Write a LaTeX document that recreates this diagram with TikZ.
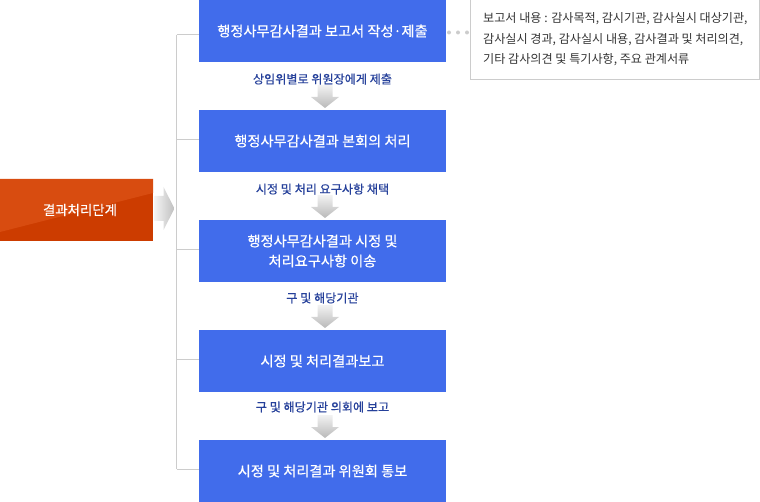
\documentclass[tikz,border=0pt]{standalone}
\usepackage{fontspec}
\setmainfont{Noto Sans CJK KR}
\newfontfamily\medfont{Noto Sans CJK KR}[FakeBold=0.6]
\usetikzlibrary{positioning}
\definecolor{boxblue}{HTML}{416CEB}
\definecolor{orangeA}{HTML}{CC3C00}
\definecolor{orangeB}{HTML}{D84C10}
\definecolor{labblue}{HTML}{25409A}
\definecolor{linegray}{HTML}{CCCCCC}
\definecolor{notetext}{HTML}{333333}
\begin{document}
\begin{tikzpicture}[x=1pt,y=-1pt,
  stepbox/.style={fill=boxblue,text=white,minimum width=247pt,minimum height=62pt,inner sep=0pt,align=center,font=\medfont\fontsize{14.2}{20}\selectfont},
  steplabel/.style={text=labblue,font=\medfont\fontsize{12.1}{14}\selectfont,inner sep=0pt},
  conn/.style={draw=linegray,line width=1pt},
  downarrow/.style={top color=gray!10,bottom color=gray!55,draw=none},
]
\useasboundingbox (0,0) rectangle (760,502);
% left structure line
\coordinate (t1) at (176.5,35);
\coordinate (t2) at (176.5,140);
\coordinate (t3) at (176.5,250);
\coordinate (t4) at (176.5,360);
\coordinate (t5) at (176.5,469);
\draw[conn] (t1) -- (t5);
\draw[conn] (t1) -- (199,35);
\draw[conn] (t2) -- (199,140);
\draw[conn] (t3) -- (199,250);
\draw[conn] (t4) -- (199,360);
\draw[conn] (t5) -- (199,469);
% blue boxes
\node[stepbox] (b1) at (322.5,31) {행정사무감사결과 보고서 작성·제출};
\node[stepbox] (b2) at (322.5,141) {행정사무감사결과 본회의 처리};
\node[stepbox] (b3) at (322.5,251) {행정사무감사결과 시정 및\\처리요구사항 이송};
\node[stepbox] (b4) at (322.5,361) {시정 및 처리결과보고};
\node[stepbox] (b5) at (322.5,471) {시정 및 처리결과 위원회 통보};
% labels
\node[steplabel] (l1) at (322.5,79) {상임위별로 위원장에게 제출};
\node[steplabel] (l2) at (322.5,189) {시정 및 처리 요구사항 채택};
\node[steplabel] (l3) at (322.5,298) {구 및 해당기관};
\node[steplabel] (l4) at (322.5,407) {구 및 해당기관 의회에 보고};
% down arrows
\foreach \y/\n in {85/1,195/2,305/3,415/4}{
  \shade[downarrow] (317.5,\y) -- (332.5,\y) -- (332.5,\y+12) -- (339,\y+12) -- (325,\y+23) -- (311,\y+12) -- (317.5,\y+12) -- cycle;
}
% orange box
\fill[orangeA] (0,179) rectangle (153,241);
\fill[orangeB] (0,179) -- (153,179) -- (153,193) -- (0,232) -- cycle;
\node[text=white,font=\medfont\fontsize{13.4}{15}\selectfont,inner sep=0pt] (res) at (80,210) {결과처리단계};
% right arrow
\shade[left color=gray!8,right color=gray!50,draw=none] (154,196) -- (163.5,196) -- (163.5,187) -- (174.5,208.5) -- (163.5,230) -- (163.5,221) -- (154,221) -- cycle;
% dots
\foreach \x in {449,458,467}{\fill[linegray] (\x,32.5) circle (2pt);}
% note box
\node[draw=linegray,line width=1pt,minimum width=289pt,minimum height=80pt,inner sep=0pt] (note) at (614.5,40) {};
\node[text=notetext,font=\fontsize{12.1}{20.5}\selectfont,align=left,anchor=north west,inner sep=0pt] (notetxt) at (483,12.5) {보고서 내용 : 감사목적, 감시기관, 감사실시 대상기관,\\감사실시 경과, 감사실시 내용, 감사결과 및 처리의견,\\기타 감사의견 및 특기사항, 주요 관계서류};
\end{tikzpicture}
\end{document}
